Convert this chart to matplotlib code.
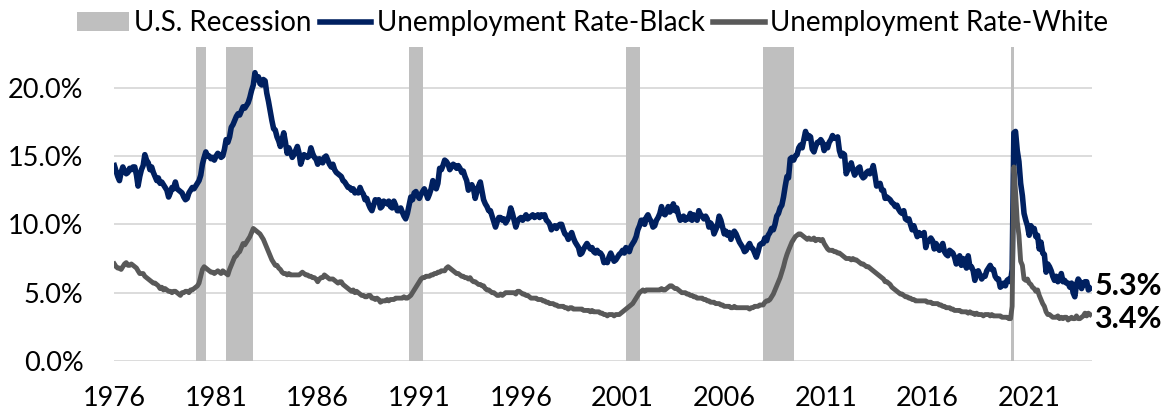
import numpy as np
import pandas as pd
import matplotlib
matplotlib.use("Agg")
import matplotlib.pyplot as plt
import matplotlib.dates as mdates
from matplotlib.patches import Patch
from matplotlib.lines import Line2D

# monthly unemployment rate (%), Jan 1976 .. Jan 2024
black = [
    14.3, 13.9, 13.5, 13.2, 13.8, 14.2, 13.9, 13.7, 13.8, 14.1, 14.0, 14.2,  # 1976
    14.2, 13.6, 12.8, 13.5, 14.0, 14.3, 15.1, 14.7, 14.5, 14.0, 14.2, 13.8,  # 1977
    13.5, 13.2, 13.4, 13.0, 13.1, 12.9, 12.7, 12.5, 12.0, 12.3, 12.7, 12.6,  # 1978
    13.1, 12.6, 12.5, 12.4, 12.3, 12.0, 11.8, 11.9, 12.3, 12.5, 12.7, 12.6,  # 1979
    12.8, 13.0, 13.2, 13.6, 14.4, 14.9, 15.3, 15.0, 15.0, 14.8, 14.9, 14.7,  # 1980
    15.0, 15.2, 15.1, 14.9, 15.0, 15.5, 16.2, 16.0, 16.4, 17.1, 17.3, 17.6,  # 1981
    17.9, 18.1, 18.0, 18.3, 18.6, 18.5, 18.7, 18.9, 19.3, 19.8, 20.2, 21.1,  # 1982
    20.6, 20.8, 20.3, 20.2, 20.6, 20.5, 19.6, 19.0, 18.3, 17.6, 17.0, 16.9,  # 1983
    16.4, 16.1, 15.7, 16.2, 16.7, 16.0, 15.2, 15.6, 15.3, 14.9, 15.1, 15.4,  # 1984
    15.7, 15.2, 14.4, 14.8, 15.1, 15.0, 14.9, 15.0, 15.6, 15.2, 14.9, 14.8,  # 1985
    14.4, 14.8, 14.7, 14.5, 14.9, 15.0, 14.7, 14.4, 14.2, 14.4, 14.0, 13.8,  # 1986
    13.7, 13.6, 13.5, 13.2, 13.1, 12.9, 12.7, 12.7, 12.5, 12.6, 12.3, 12.4,  # 1987
    12.3, 12.7, 12.4, 12.2, 11.8, 11.9, 11.5, 11.2, 11.0, 11.4, 11.8, 11.7,  # 1988
    11.8, 11.2, 11.3, 11.7, 11.6, 11.5, 11.7, 11.3, 11.2, 11.7, 11.4, 11.0,  # 1989
    11.0, 11.2, 10.9, 10.6, 10.4, 10.8, 11.4, 12.0, 11.8, 12.3, 12.4, 12.1,  # 1990
    11.9, 12.2, 12.4, 12.6, 12.3, 11.9, 12.2, 12.6, 13.2, 12.8, 12.6, 13.0,  # 1991
    14.1, 14.0, 14.3, 14.7, 14.6, 14.4, 14.0, 14.2, 14.4, 14.3, 14.1, 14.3,  # 1992
    14.1, 13.8, 13.9, 13.5, 13.2, 12.5, 12.8, 12.9, 12.6, 11.9, 12.4, 12.8,  # 1993
    13.1, 12.4, 11.8, 11.5, 11.3, 11.0, 11.0, 10.6, 10.2, 9.8, 10.2, 10.5,  # 1994
    10.5, 10.3, 10.4, 10.1, 10.3, 10.6, 11.2, 10.8, 10.3, 9.8, 10.2, 10.4,  # 1995
    10.5, 10.3, 10.5, 10.7, 10.4, 10.5, 10.6, 10.7, 10.5, 10.6, 10.7, 10.5,  # 1996
    10.7, 10.6, 10.7, 10.3, 10.2, 10.0, 9.6, 9.8, 9.9, 9.7, 9.9, 10.0,  # 1997
    10.0, 9.6, 9.3, 9.2, 8.9, 9.2, 9.4, 9.0, 8.7, 8.5, 8.3, 7.8,  # 1998
    7.9, 8.2, 8.4, 8.6, 8.4, 8.2, 8.3, 8.0, 7.9, 8.1, 7.9, 7.9,  # 1999
    7.7, 7.2, 7.3, 7.2, 7.6, 7.9, 7.6, 7.3, 7.4, 7.6, 7.8, 7.9,  # 2000
    8.1, 7.9, 8.3, 8.2, 8.0, 8.4, 8.6, 8.8, 9.1, 9.6, 9.9, 10.3,  # 2001
    10.3, 10.0, 10.5, 10.7, 10.4, 10.2, 9.8, 9.9, 10.3, 10.5, 10.8, 11.3,  # 2002
    10.8, 10.7, 10.9, 11.3, 10.9, 11.1, 11.5, 11.0, 11.2, 10.7, 10.3, 10.4,  # 2003
    10.6, 10.3, 10.5, 10.4, 10.8, 10.3, 10.7, 10.5, 10.3, 11.0, 10.7, 10.6,  # 2004
    10.4, 10.6, 10.4, 9.8, 10.1, 9.9, 9.3, 9.6, 9.9, 10.6, 10.3, 9.8,  # 2005
    9.3, 9.5, 9.2, 9.4, 8.9, 9.3, 9.5, 9.3, 9.0, 8.7, 8.5, 8.3,  # 2006
    8.0, 8.1, 8.4, 8.6, 8.3, 8.2, 7.9, 7.6, 8.0, 8.5, 8.6, 8.6,  # 2007
    9.0, 8.8, 9.2, 9.4, 9.7, 9.6, 10.0, 10.6, 10.8, 11.2, 11.4, 12.0,  # 2008
    12.8, 13.5, 13.4, 14.8, 14.9, 14.7, 15.0, 15.1, 15.6, 15.8, 15.6, 16.2,  # 2009
    16.8, 16.3, 16.5, 16.4, 15.5, 15.3, 15.7, 16.0, 16.0, 16.2, 16.0, 15.4,  # 2010
    15.8, 15.6, 16.0, 16.2, 16.5, 16.3, 16.3, 16.4, 15.4, 15.0, 15.2, 15.1,  # 2011
    13.7, 14.0, 14.2, 14.5, 14.0, 13.6, 13.8, 14.1, 14.2, 13.6, 13.4, 13.5,  # 2012
    13.8, 13.9, 13.7, 13.9, 14.3, 13.6, 12.8, 12.9, 13.0, 12.5, 12.5, 11.9,  # 2013
    12.0, 11.9, 11.8, 11.6, 11.5, 11.3, 11.4, 11.1, 10.9, 10.8, 11.0, 10.4,  # 2014
    10.3, 10.4, 10.0, 9.6, 9.9, 9.5, 9.1, 9.4, 9.2, 9.2, 9.4, 8.3,  # 2015
    8.8, 8.8, 9.0, 8.8, 8.2, 8.6, 8.4, 8.1, 8.3, 8.6, 8.0, 7.8,  # 2016
    7.7, 8.1, 8.0, 7.9, 7.6, 7.1, 7.4, 7.7, 7.0, 7.5, 7.3, 6.8,  # 2017
    7.7, 6.9, 6.9, 6.6, 5.9, 6.5, 6.6, 6.3, 6.0, 6.2, 6.2, 6.6,  # 2018
    6.8, 7.0, 6.7, 6.7, 6.2, 6.0, 6.0, 5.4, 5.5, 5.7, 5.5, 5.9,  # 2019
    6.0, 5.8, 6.7, 16.7, 16.8, 15.4, 14.6, 13.0, 12.1, 10.8, 10.3, 9.9,  # 2020
    9.2, 9.9, 9.6, 9.7, 9.1, 9.2, 8.2, 8.7, 7.9, 7.8, 6.5, 7.1,  # 2021
    6.9, 6.6, 6.2, 5.9, 6.2, 5.8, 6.0, 6.4, 5.8, 5.9, 5.7, 5.7,  # 2022
    5.4, 5.7, 5.0, 4.7, 5.6, 6.0, 5.8, 5.3, 5.7, 5.8, 5.8, 5.2,  # 2023
    5.3,  # 2024
]

white = [
    7.1, 6.9, 6.8, 6.8, 6.7, 6.9, 7.1, 7.2, 7.0, 7.0, 7.1, 7.0,  # 1976
    6.9, 6.8, 6.6, 6.4, 6.4, 6.4, 6.2, 6.1, 6.0, 5.9, 5.8, 5.7,  # 1977
    5.7, 5.6, 5.5, 5.3, 5.4, 5.2, 5.3, 5.2, 5.1, 5.1, 5.0, 5.1,  # 1978
    5.1, 5.0, 4.9, 4.8, 5.0, 5.0, 5.1, 5.1, 5.0, 5.2, 5.2, 5.3,  # 1979
    5.4, 5.5, 5.7, 6.2, 6.7, 6.9, 6.8, 6.7, 6.6, 6.5, 6.5, 6.4,  # 1980
    6.5, 6.6, 6.5, 6.4, 6.6, 6.5, 6.4, 6.3, 6.7, 7.0, 7.3, 7.6,  # 1981
    7.7, 7.9, 8.0, 8.3, 8.6, 8.5, 8.7, 8.9, 9.1, 9.4, 9.7, 9.6,  # 1982
    9.5, 9.4, 9.3, 9.1, 8.9, 8.6, 8.3, 8.0, 7.7, 7.4, 7.2, 7.0,  # 1983
    7.0, 6.8, 6.7, 6.5, 6.4, 6.4, 6.3, 6.4, 6.3, 6.3, 6.3, 6.3,  # 1984
    6.3, 6.3, 6.4, 6.5, 6.4, 6.3, 6.3, 6.2, 6.2, 6.1, 6.1, 6.0,  # 1985
    5.8, 6.0, 6.1, 6.1, 6.3, 6.2, 6.1, 6.0, 6.0, 6.0, 5.9, 5.8,  # 1986
    5.7, 5.8, 5.8, 5.6, 5.5, 5.4, 5.3, 5.2, 5.1, 5.2, 5.0, 5.1,  # 1987
    5.0, 4.9, 4.8, 4.8, 4.7, 4.7, 4.8, 4.8, 4.6, 4.6, 4.5, 4.6,  # 1988
    4.5, 4.3, 4.4, 4.4, 4.4, 4.5, 4.4, 4.5, 4.5, 4.5, 4.6, 4.6,  # 1989
    4.6, 4.6, 4.6, 4.7, 4.6, 4.6, 4.7, 4.8, 5.0, 5.2, 5.4, 5.6,  # 1990
    5.8, 6.0, 6.1, 6.1, 6.2, 6.2, 6.2, 6.3, 6.3, 6.4, 6.4, 6.5,  # 1991
    6.5, 6.6, 6.6, 6.6, 6.8, 6.9, 6.8, 6.7, 6.6, 6.5, 6.4, 6.4,  # 1992
    6.3, 6.2, 6.2, 6.1, 6.1, 6.0, 6.1, 5.9, 5.8, 5.8, 5.7, 5.6,  # 1993
    5.6, 5.5, 5.5, 5.3, 5.2, 5.2, 5.1, 5.0, 5.0, 4.9, 4.8, 4.8,  # 1994
    4.9, 4.8, 4.9, 5.0, 5.0, 5.0, 5.0, 5.0, 5.0, 4.9, 5.1, 5.1,  # 1995
    5.0, 4.9, 4.9, 4.8, 4.8, 4.7, 4.6, 4.6, 4.6, 4.6, 4.5, 4.5,  # 1996
    4.5, 4.4, 4.4, 4.3, 4.3, 4.2, 4.2, 4.2, 4.1, 4.1, 4.0, 4.0,  # 1997
    4.0, 4.0, 3.9, 3.9, 3.8, 3.9, 3.9, 3.8, 3.8, 3.8, 3.8, 3.8,  # 1998
    3.8, 3.7, 3.7, 3.7, 3.7, 3.6, 3.7, 3.6, 3.6, 3.6, 3.6, 3.5,  # 1999
    3.5, 3.4, 3.4, 3.3, 3.4, 3.4, 3.4, 3.3, 3.4, 3.4, 3.4, 3.5,  # 2000
    3.6, 3.7, 3.8, 3.9, 4.0, 4.1, 4.2, 4.4, 4.6, 4.8, 5.0, 5.1,  # 2001
    5.2, 5.1, 5.2, 5.2, 5.2, 5.2, 5.2, 5.2, 5.2, 5.2, 5.2, 5.3,  # 2002
    5.2, 5.2, 5.3, 5.4, 5.5, 5.5, 5.4, 5.3, 5.3, 5.2, 5.1, 5.0,  # 2003
    5.0, 5.0, 4.9, 4.9, 4.8, 4.8, 4.7, 4.7, 4.6, 4.6, 4.6, 4.6,  # 2004
    4.5, 4.5, 4.4, 4.4, 4.3, 4.3, 4.3, 4.2, 4.2, 4.2, 4.1, 4.1,  # 2005
    4.0, 4.0, 4.0, 4.0, 3.9, 3.9, 4.0, 3.9, 3.9, 3.9, 3.9, 3.9,  # 2006
    3.9, 3.9, 3.9, 3.8, 3.9, 3.9, 4.0, 4.0, 4.0, 4.1, 4.1, 4.1,  # 2007
    4.3, 4.4, 4.4, 4.5, 4.7, 4.9, 5.2, 5.5, 5.8, 6.1, 6.5, 6.9,  # 2008
    7.4, 7.8, 8.1, 8.4, 8.7, 8.9, 9.1, 9.2, 9.3, 9.3, 9.2, 9.1,  # 2009
    9.0, 8.9, 9.0, 8.9, 8.9, 9.0, 8.8, 8.9, 8.9, 8.8, 8.9, 8.6,  # 2010
    8.4, 8.2, 8.1, 8.1, 8.1, 8.0, 8.0, 7.9, 7.9, 7.8, 7.7, 7.6,  # 2011
    7.5, 7.5, 7.5, 7.4, 7.5, 7.4, 7.4, 7.3, 7.2, 7.1, 7.1, 7.0,  # 2012
    6.9, 6.9, 6.8, 6.7, 6.6, 6.5, 6.4, 6.3, 6.2, 6.1, 6.0, 5.8,  # 2013
    5.8, 5.7, 5.6, 5.4, 5.3, 5.2, 5.1, 5.0, 4.9, 4.9, 4.8, 4.7,  # 2014
    4.7, 4.6, 4.6, 4.5, 4.5, 4.4, 4.4, 4.4, 4.4, 4.4, 4.4, 4.4,  # 2015
    4.3, 4.3, 4.3, 4.2, 4.2, 4.2, 4.2, 4.1, 4.1, 4.0, 4.0, 3.9,  # 2016
    3.9, 3.9, 3.8, 3.8, 3.7, 3.7, 3.7, 3.7, 3.6, 3.6, 3.6, 3.6,  # 2017
    3.5, 3.6, 3.5, 3.5, 3.4, 3.5, 3.4, 3.4, 3.4, 3.3, 3.4, 3.4,  # 2018
    3.4, 3.3, 3.4, 3.3, 3.3, 3.3, 3.3, 3.3, 3.2, 3.2, 3.2, 3.2,  # 2019
    3.1, 3.1, 4.0, 14.2, 12.4, 10.2, 9.2, 7.3, 7.0, 6.0, 5.9, 6.0,  # 2020
    5.7, 5.6, 5.4, 5.3, 5.1, 5.2, 4.8, 4.5, 4.2, 4.0, 3.6, 3.4,  # 2021
    3.4, 3.3, 3.2, 3.2, 3.2, 3.3, 3.1, 3.2, 3.1, 3.2, 3.2, 3.0,  # 2022
    3.1, 3.2, 3.1, 3.1, 3.3, 3.1, 3.1, 3.2, 3.3, 3.5, 3.3, 3.5,  # 2023
    3.4,  # 2024
]

# NBER recessions (peak month, trough month)
recessions = [
    ("1980-01-01", "1980-07-01"),
    ("1981-07-01", "1982-11-01"),
    ("1990-07-01", "1991-03-01"),
    ("2001-03-01", "2001-11-01"),
    ("2007-12-01", "2009-06-01"),
    ("2020-02-01", "2020-04-01"),
]

tick_years = [1976, 1981, 1986, 1991, 1996, 2001, 2006, 2011, 2016, 2021]
y_ticks = [0, 5, 10, 15, 20]

NAVY = "#002060"
GREY = "#595959"
BAND = "#bfbfbf"
GRID = "#d9d9d9"
FONT = "Lato"

dates = pd.date_range("1976-01-01", periods=len(black), freq="MS")

fig = plt.figure(figsize=(11.74, 4.17), dpi=100)
ax = fig.add_axes([0.0971, 0.1343, 0.8331, 0.7537])

for start, end in recessions:
    ax.axvspan(pd.Timestamp(start), pd.Timestamp(end), color=BAND, lw=0, zorder=1)

ax.plot(dates, black, color=NAVY, lw=4.0, solid_joinstyle="round", zorder=3)
ax.plot(dates, white, color=GREY, lw=3.5, solid_joinstyle="round", zorder=4)

ax.set_ylim(0, 23)
ax.set_xlim(pd.Timestamp("1975-12-25"), pd.Timestamp("2024-02-05"))

ax.set_yticks(y_ticks)
ax.yaxis.set_major_formatter(plt.FuncFormatter(lambda v, p: f"{v:.1f}%"))
ax.set_xticks([pd.Timestamp(f"{y}-01-01") for y in tick_years])
ax.xaxis.set_major_formatter(mdates.DateFormatter("%Y"))

ax.grid(axis="y", color=GRID, lw=1.3, zorder=0)
ax.set_axisbelow(True)
for s in ax.spines.values():
    s.set_visible(False)
ax.tick_params(axis="both", length=0, labelsize=19.5, labelcolor="black")
ax.tick_params(axis="x", pad=18)
ax.tick_params(axis="y", pad=22)
for lab in ax.get_xticklabels() + ax.get_yticklabels():
    lab.set_fontfamily(FONT)

# end-of-series labels (nudged apart a little so they don't collide)
for vals, dy in ((black, 2), (white, -3)):
    ax.annotate(f"{vals[-1]:.1f}%", xy=(dates[-1], vals[-1]), xytext=(3, dy),
                textcoords="offset points", va="center", ha="left",
                fontsize=22, fontweight="bold", family=FONT, color="black",
                annotation_clip=False)

handles = [
    Patch(facecolor=BAND, edgecolor="none"),
    Line2D([], [], color=NAVY, lw=4.0),
    Line2D([], [], color=GREY, lw=4.0),
]
labels = ["U.S. Recession", "Unemployment Rate-Black", "Unemployment Rate-White"]
fig.legend(handles, labels, loc="upper center", bbox_to_anchor=(0.505, 1.035),
           ncol=3, frameon=False, prop={"family": FONT, "size": 20},
           handlelength=1.85, handletextpad=0.2, columnspacing=0.3)

fig.savefig("out.png", dpi=100)
